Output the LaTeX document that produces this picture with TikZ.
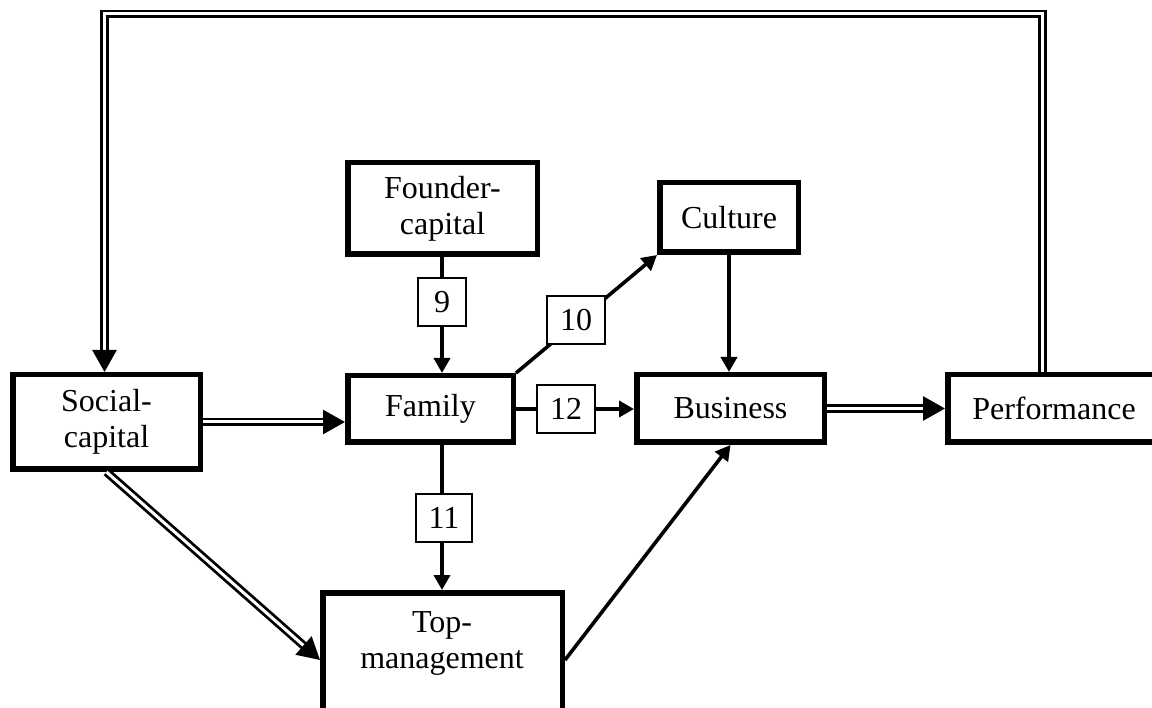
\documentclass[tikz,border=0pt]{standalone}
\usepackage{fontspec}
\setmainfont{Liberation Serif}
\usetikzlibrary{arrows.meta}
\begin{document}
\begin{tikzpicture}[x=1pt,y=-1pt,
  box/.style={draw, line width=5.5pt, inner sep=0pt, align=center, fill=white},
  numbox/.style={draw, line width=2pt, fill=white, minimum width=48pt, minimum height=48pt, inner xsep=13pt, inner ysep=0pt},
  sarrow/.style={line width=3.6pt, -{Triangle[length=15pt,width=16pt]}},
  dline/.style={double, line width=2.8pt, double distance=3pt},
  darrow/.style={dline, -{Triangle[length=22pt,width=24pt]}},
  every node/.style={font=\fontsize{32}{36}\selectfont}]
\useasboundingbox (0,0) rectangle (1152,708);
\clip (0,0) rectangle (1152,708);
% boxes
\node[box, minimum width=187.5pt, minimum height=94.5pt] (soc) at (106.5,422) {Social-\\capital};
\node[box, minimum width=165.5pt, minimum height=66.5pt] (fam) at (430.5,409) {Family};
\node[box, minimum width=187.5pt, minimum height=67.5pt] (bus) at (730.5,408.5) {Business};
\node[box, minimum width=212.5pt, minimum height=67.5pt] (perf) at (1054,408.5) {Performance};
\node[box, minimum width=189.5pt, minimum height=91.5pt] (fou) at (442.5,208.5) {Founder-\\capital};
\node[box, minimum width=138.5pt, minimum height=69.5pt] (cul) at (729,217.5) {Culture};
\node[box, minimum width=239.5pt, minimum height=134.5pt] (top) at (442.5,660) {};
\node[align=center] (toplab) at (442,643) {Top-\\management};
% single arrows
\draw[sarrow] (fou.south -| 442,0) -- (fam.north -| 442,0);
\draw[sarrow] (fam.south -| 442,0) -- (top.north -| 442,0);
\draw[sarrow] (fam.north east) -- (cul.south west);
\draw[sarrow] (fam.east) -- (bus.west |- fam.east);
\draw[sarrow] (cul.south) -- (bus.north -| cul.south);
\draw[sarrow] (top.east) -- (bus.south);
% double arrows
\draw[darrow] (soc.east) -- (fam.west |- soc.east);
\draw[darrow] (soc.south) -- (top.west);
\draw[darrow] (bus.east) -- (perf.west |- bus.east);
\draw[darrow] (perf.north -| 1042.5,0) |- (104.5,14) -- (soc.north -| 104.5,0);
% number boxes
\node[numbox] (n9) at (442,302.5) {9};
\node[numbox] (n10) at (576,320) {10};
\node[numbox] (n12) at (566,409) {12};
\node[numbox] (n11) at (444,518) {11};
\end{tikzpicture}
\end{document}
